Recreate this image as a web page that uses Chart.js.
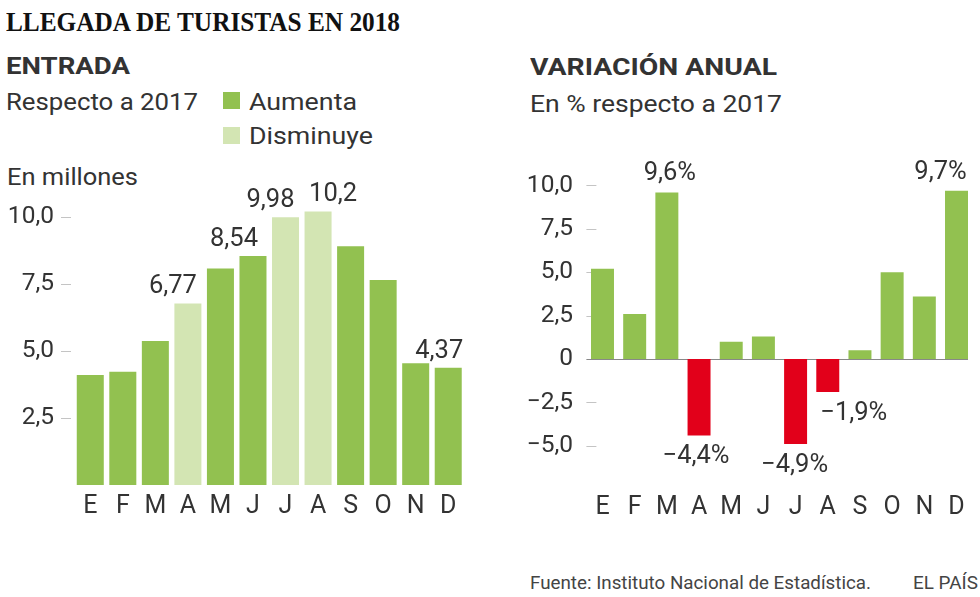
<!DOCTYPE html>
<html><head><meta charset="utf-8">
<script src="https://cdn.jsdelivr.net/npm/chart.js@4.4.1/dist/chart.umd.min.js"></script>
<style>
html,body{margin:0;padding:0;background:#fff;width:980px;height:597px;overflow:hidden;position:relative}
.t{position:absolute;white-space:nowrap;line-height:1;color:#333;font-family:Roboto,sans-serif;font-weight:400;transform-origin:0 0}
.sq{position:absolute;width:17px;height:17px}
canvas{position:absolute}
</style></head><body>
<div class="t" data-w="394" style="left:6px;top:8.4px;font-family:'Liberation Serif',serif;font-weight:700;font-size:27.6px;color:#111">LLEGADA DE TURISTAS EN 2018</div>
<div class="t" data-w="124" style="left:6px;top:53.8px;font-weight:700;font-size:24px">ENTRADA</div>
<div class="t" data-w="247" style="left:530px;top:54.8px;font-weight:700;font-size:24px">VARIACIÓN ANUAL</div>
<div class="t" data-w="192" style="left:6px;top:89.9px;font-size:24.5px">Respecto a 2017</div>
<div class="sq" style="left:223px;top:92px;background:#92c150"></div>
<div class="t" data-w="108" style="left:249px;top:89.9px;font-size:24.5px">Aumenta</div>
<div class="sq" style="left:223px;top:126.5px;background:#d3e5b3"></div>
<div class="t" data-w="124" style="left:249px;top:124.4px;font-size:24.5px">Disminuye</div>
<div class="t" data-w="252" style="left:530px;top:92.4px;font-size:24.5px">En % respecto a 2017</div>
<div class="t" data-w="131" style="left:7px;top:165.4px;font-size:24.5px">En millones</div>
<div class="t" data-w="341" style="left:530px;top:574.3px;font-size:18.7px;color:#444">Fuente: Instituto Nacional de Estadística.</div>
<div class="t" data-w="65" style="left:913px;top:574.3px;font-size:18.7px;color:#444">EL PAÍS</div>
<canvas id="c1" width="480" height="385" style="left:0;top:140px"></canvas>
<canvas id="c2" width="480" height="385" style="left:500px;top:140px"></canvas>
<script>
const months = ['E','F','M','A','M','J','J','A','S','O','N','D'];
const entradas = [4.10,4.22,5.37,6.77,8.07,8.54,9.98,10.2,8.90,7.64,4.54,4.37];
const variacion = [5.2,2.6,9.6,-4.4,1.0,1.3,-4.9,-1.9,0.5,5.0,3.6,9.7];
const entradasTicks = [2.5,5,7.5,10];
const variacionTicks = [-5,-2.5,0,2.5,5,7.5,10];
const entradasEtiquetadas = [3,5,6,7,11];
const variacionEtiquetadas = [2,3,6,7,11];

const GREEN='#92c150', LIGHT='#d3e5b3', RED='#e2001a', TXT='#333';
const FONT='Roboto';

function fmtTick(v){ if(v===0) return '0'; return v.toFixed(1).replace('.',',').replace('-','\u2212'); }

const marks = {
  id:'marks',
  beforeDatasetsDraw(chart, args, o){
    const {ctx, chartArea, scales:{y}} = chart;
    ctx.save();
    ctx.lineWidth=1;
    ctx.strokeStyle=o.tickColor;
    y.ticks.forEach(t=>{
      if(t.value===0 && o.zeroLine) return;
      const py=Math.round(y.getPixelForValue(t.value))+0.5;
      ctx.beginPath(); ctx.moveTo(chartArea.left+o.from,py); ctx.lineTo(chartArea.left+o.to,py); ctx.stroke();
    });
    if(o.zeroLine){
      const meta=chart.getDatasetMeta(0); const last=meta.data[meta.data.length-1];
      const py=Math.round(y.getPixelForValue(0))+0.5;
      ctx.strokeStyle=o.zeroColor;
      ctx.beginPath(); ctx.moveTo(chartArea.left+o.from,py); ctx.lineTo(last.x+last.width/2,py); ctx.stroke();
    }
    ctx.restore();
  },
  afterDatasetsDraw(chart, args, o){
    const {ctx} = chart; const meta=chart.getDatasetMeta(0); const data=chart.data.datasets[0].data;
    ctx.save();
    ctx.font='400 '+o.size+'px '+FONT; ctx.fillStyle=TXT; ctx.textAlign='center'; ctx.textBaseline='alphabetic';
    o.indices.forEach((i,k)=>{
      const b=meta.data[i]; const v=data[i];
      const y = v>=0 ? b.y-o.gapUp : b.y+o.gapDown;
      ctx.fillText(o.format(v), b.x+o.dx[k], y);
    });
    ctx.restore();
  }
};

new Chart(document.getElementById('c1'),{
  type:'bar',
  data:{labels:months, datasets:[{data:entradas, backgroundColor:variacion.map(v=>v<0?LIGHT:GREEN), barPercentage:0.83, categoryPercentage:1}]},
  plugins:[marks],
  options:{
    responsive:false, animation:false, devicePixelRatio:1,
    layout:{padding:{top:50,right:15.5,left:0,bottom:0}},
    plugins:{legend:{display:false}, tooltip:{enabled:false},
      marks:{tickColor:'#c4c4c4', from:-13, to:-3, zeroLine:false, indices:entradasEtiquetadas, dx:[-15,-19,-15,15,-9], gapUp:10, gapDown:28, size:25.5,
        format:v=>String(v).replace('.',',')}},
    scales:{
      x:{grid:{display:false,drawTicks:false}, border:{display:false},
         ticks:{color:TXT,font:{family:FONT,size:25,weight:'400'},padding:7},
         afterFit:s=>{s.height=40;}},
      y:{min:0,max:11, grid:{display:false,drawTicks:false}, border:{display:false},
         afterBuildTicks:s=>{s.ticks=entradasTicks.map(v=>({value:v}));},
         ticks:{color:TXT,font:{family:FONT,size:24.5,weight:'400'},padding:20,callback:v=>fmtTick(v)},
         afterFit:s=>{s.width=74;}}
    }
  }
});

new Chart(document.getElementById('c2'),{
  type:'bar',
  data:{labels:months, datasets:[{data:variacion, backgroundColor:variacion.map(v=>v<0?RED:GREEN), barPercentage:0.714, categoryPercentage:1}]},
  plugins:[marks],
  options:{
    responsive:false, animation:false, devicePixelRatio:1,
    layout:{padding:{top:23.7,right:7.4,left:0,bottom:0}},
    plugins:{legend:{display:false}, tooltip:{enabled:false},
      marks:{tickColor:'#c4c4c4', from:0, to:10, zeroLine:true, zeroColor:'#888', indices:variacionEtiquetadas, dx:[3,-3,-1,26,-16], gapUp:12, gapDown:28, size:25.5,
        format:v=>v.toFixed(1).replace('.',',').replace('-','\u2212')+'%'}},
    scales:{
      x:{grid:{display:false,drawTicks:false}, border:{display:false},
         ticks:{color:TXT,font:{family:FONT,size:25,weight:'400'},padding:12},
         afterFit:s=>{s.height=44.5;}},
      y:{min:-7,max:11, grid:{display:false,drawTicks:false}, border:{display:false},
         afterBuildTicks:s=>{s.ticks=variacionTicks.map(v=>({value:v}));},
         ticks:{color:TXT,font:{family:FONT,size:24.5,weight:'400'},padding:13.4,callback:v=>fmtTick(v)},
         afterFit:s=>{s.width=86.4;}}
    }
  }
});

document.querySelectorAll('[data-w]').forEach(el=>{
  const w=el.getBoundingClientRect().width;
  el.style.transform='scaleX('+(parseFloat(el.dataset.w)/w)+')';
});
</script>
</body></html>
